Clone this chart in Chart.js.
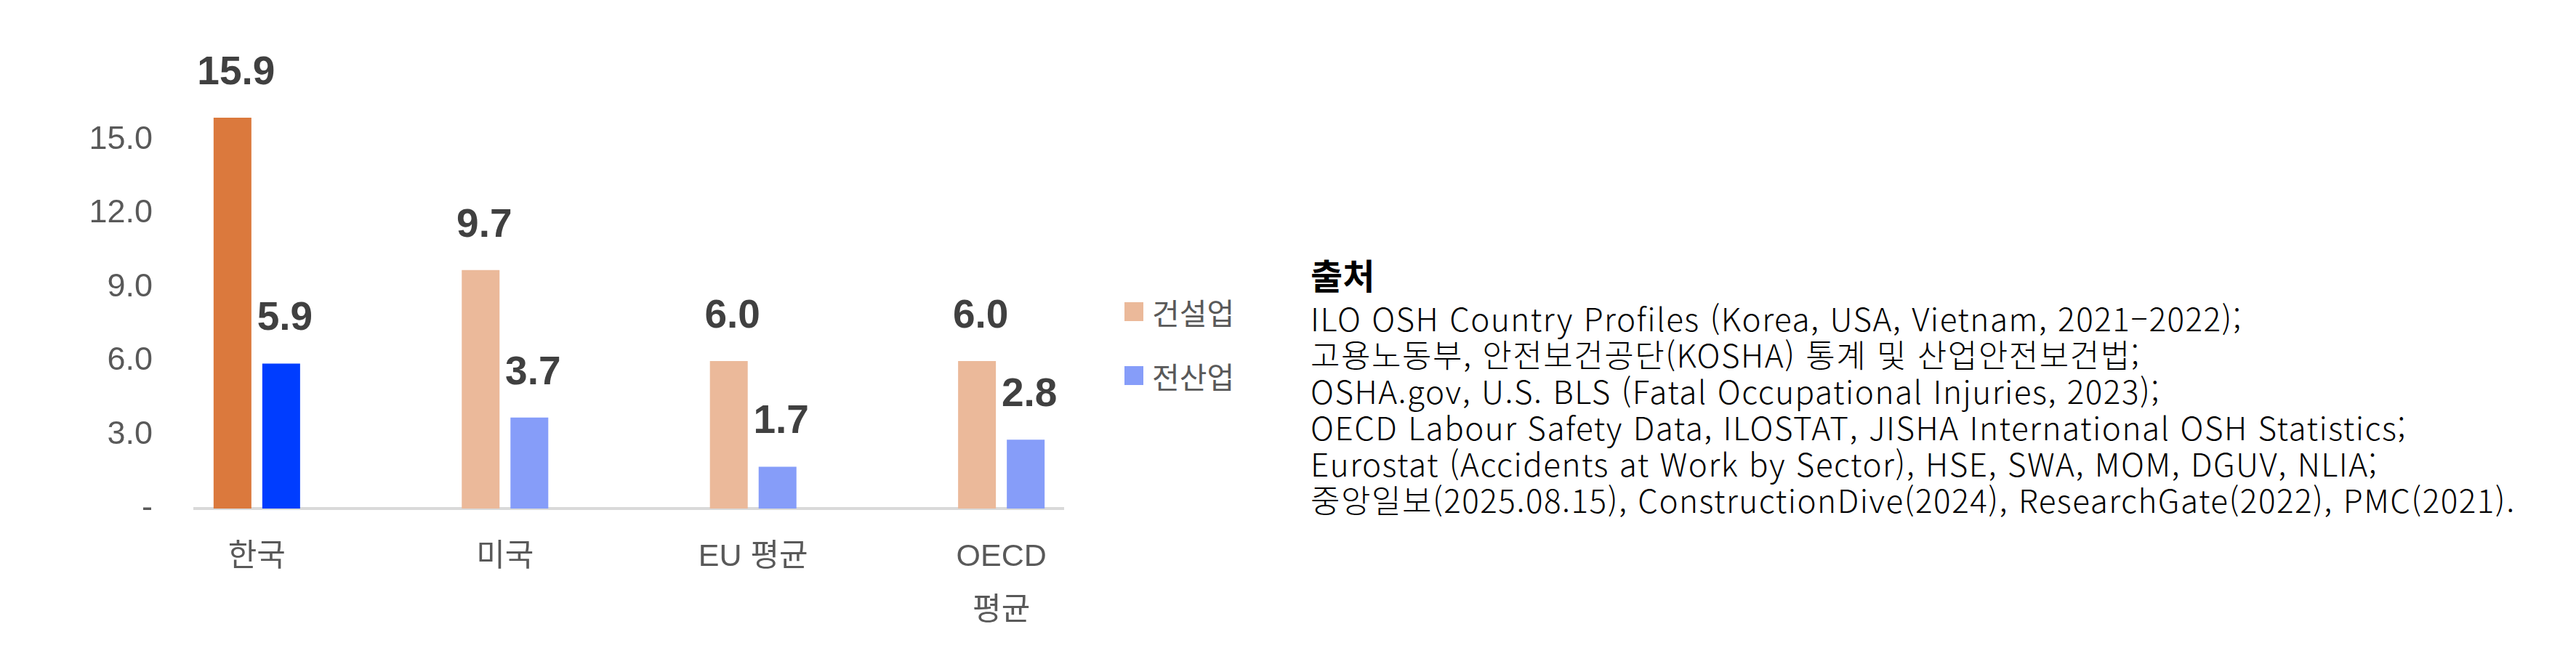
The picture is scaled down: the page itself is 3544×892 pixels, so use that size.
<!DOCTYPE html>
<html lang="ko">
<head>
<meta charset="utf-8">
<title>산업재해 사망률 비교</title>
<script src="https://cdn.jsdelivr.net/npm/chart.js@4.4.1/dist/chart.umd.min.js"></script>
<style>
  html, body { margin: 0; padding: 0; background: #fff; }
  body { width: 3544px; height: 892px; position: relative; overflow: hidden; }
  #chartBox { position: absolute; left: 0; top: 0; width: 1500px; height: 892px; }
  #legend { position: absolute; left: 1547px; top: 404px; font-family: "Noto Sans CJK KR", sans-serif; font-size: 41px; color: #595959; }
  #legend .item { display: flex; align-items: center; height: 50px; margin-bottom: 38px; }
  #legend .swatch { width: 26px; height: 26px; margin-right: 12px; }
  #sources { position: absolute; left: 1803px; top: 346px; font-family: "Noto Sans CJK KR", sans-serif; color: #000; }
  #sources h3 { margin: 0 0 4px 0; font-size: 48px; font-weight: 700; line-height: 62px; }
  #sources p { margin: 0; font-size: 44px; font-weight: 300; line-height: 50px; white-space: nowrap; letter-spacing: 1.5px; }
</style>
</head>
<body>
<div id="chartBox"><canvas id="chart" width="1500" height="892"></canvas></div>
<div id="legend"></div>
<div id="sources">
  <h3>출처</h3>
  <p>ILO OSH Country Profiles (Korea, USA, Vietnam, 2021–2022);</p>
  <p>고용노동부, 안전보건공단(KOSHA) 통계 및 산업안전보건법;</p>
  <p>OSHA.gov, U.S. BLS (Fatal Occupational Injuries, 2023);</p>
  <p>OECD Labour Safety Data, ILOSTAT, JISHA International OSH Statistics;</p>
  <p>Eurostat (Accidents at Work by Sector), HSE, SWA, MOM, DGUV, NLIA;</p>
  <p>중앙일보(2025.08.15), ConstructionDive(2024), ResearchGate(2022), PMC(2021).</p>
</div>
<script>
// categories (OECD label wraps onto two lines)
const categories = ['한국', '미국', 'EU 평균', ['OECD', '평균']];
const seriesNames = ['건설업', '전산업'];
const construction = [15.9, 9.7, 6.0, 6.0];
const allIndustry = [5.9, 3.7, 1.7, 2.8];
const yTicks = [0, 3, 6, 9, 12, 15];

// Korea is highlighted with the strong colours, the rest are pale
const strongColors = ['#DB793D', '#003DFF'];
const paleColors = ['#EBB99A', '#869DF9'];

const fontFamily = '"Liberation Sans", Arial, "Noto Sans CJK KR", sans-serif';

function barColors(values, s) {
  return values.map((v, i) => i === 0 ? strongColors[s] : paleColors[s]);
}

// value labels above each bar
const valueLabels = {
  id: 'valueLabels',
  afterDatasetsDraw(chart) {
    const ctx = chart.ctx;
    ctx.save();
    ctx.font = 'bold 55px ' + fontFamily;
    ctx.fillStyle = '#404040';
    ctx.textAlign = 'center';
    ctx.textBaseline = 'alphabetic';
    chart.data.datasets.forEach((ds, di) => {
      const meta = chart.getDatasetMeta(di);
      meta.data.forEach((bar, i) => {
        ctx.fillText(ds.data[i].y.toFixed(1), bar.x + 5, bar.y - 46);
      });
    });
    ctx.restore();
  }
};

const ctx = document.getElementById('chart').getContext('2d');
const chart = new Chart(ctx, {
  type: 'bar',
  data: {
    datasets: [
      {
        label: seriesNames[0],
        data: construction.map((v, i) => ({ x: i, y: v })),
        backgroundColor: barColors(construction, 0)
      },
      {
        label: seriesNames[1],
        data: allIndustry.map((v, i) => ({ x: i, y: v })),
        backgroundColor: barColors(allIndustry, 1)
      }
    ]
  },
  options: {
    responsive: false,
    animation: false,
    layout: { padding: { left: 121, top: 91, right: 37, bottom: 0 } },
    datasets: { bar: { barPercentage: 0.776, categoryPercentage: 0.3926 } },
    scales: {
      x: {
        type: 'linear',
        offset: false,
        min: -0.25,
        max: 3.25,
        grid: { display: false, drawTicks: false },
        border: { display: true, color: '#D9D9D9', width: 4 },
        afterBuildTicks: scale => { scale.ticks = categories.map((c, i) => ({ value: i })); },
        afterFit: scale => { scale.height = 192; },
        ticks: {
          autoSkip: false,
          maxRotation: 0,
          padding: 31,
          color: '#595959',
          font: { family: fontFamily, size: 43, lineHeight: 1.7 },
          callback: value => categories[value]
        }
      },
      y: {
        min: 0,
        max: 18,
        grid: { display: false, drawTicks: false },
        border: { display: false },
        afterBuildTicks: scale => { scale.ticks = yTicks.map(v => ({ value: v })); },
        afterFit: scale => { scale.width = 147; },
        ticks: {
          padding: 58,
          color: '#595959',
          font: { family: fontFamily, size: 45 },
          callback: value => value === 0 ? '-' : value.toFixed(1)
        }
      }
    },
    plugins: {
      legend: { display: false },
      tooltip: { enabled: false }
    }
  },
  plugins: [valueLabels]
});

// legend built from the chart's own datasets
const legendEl = document.getElementById('legend');
chart.data.datasets.forEach((ds, s) => {
  const item = document.createElement('div');
  item.className = 'item';
  const sw = document.createElement('span');
  sw.className = 'swatch';
  sw.style.background = paleColors[s];
  const txt = document.createElement('span');
  txt.textContent = ds.label;
  item.appendChild(sw);
  item.appendChild(txt);
  legendEl.appendChild(item);
});
</script>
</body>
</html>
